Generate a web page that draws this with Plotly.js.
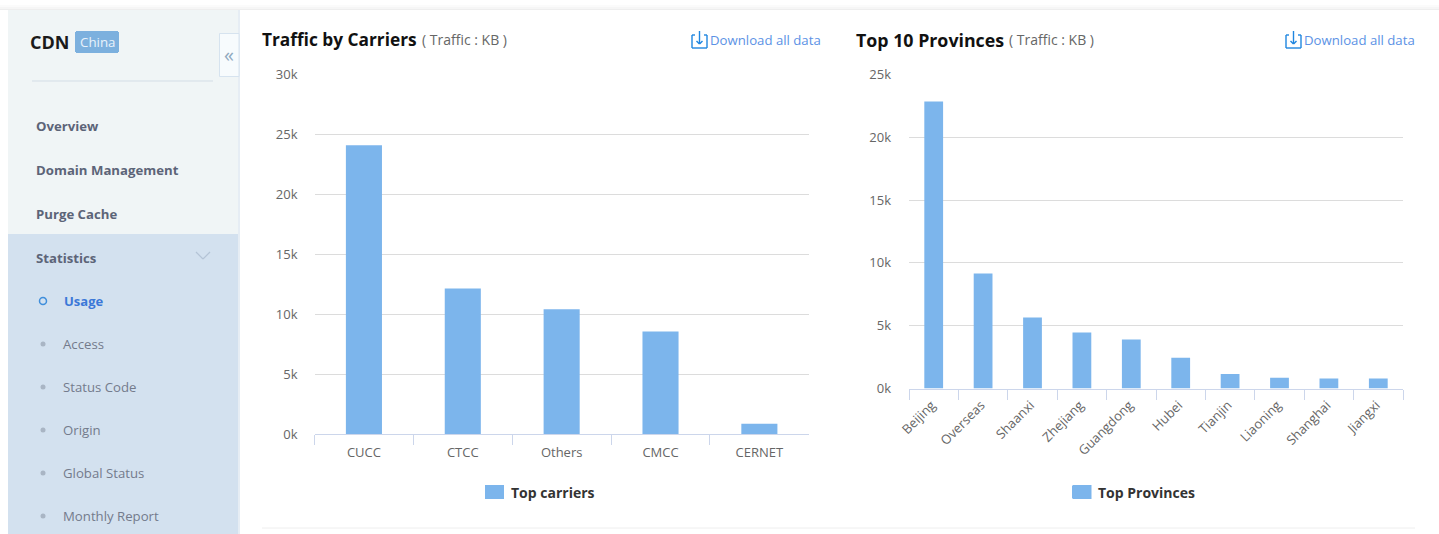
<!DOCTYPE html>
<html>
<head>
<meta charset="utf-8">
<script src="https://cdn.plot.ly/plotly-3.0.1.min.js"></script>
<style>html,body{margin:0;padding:0;background:#fff;overflow:hidden}#c{width:1439px;height:534px}</style>
</head>
<body>
<div id="c"></div>
<script>
const carriers = ['CUCC','CTCC','Others','CMCC','CERNET'];
const carrierTraffic = [24100,12150,10400,8550,850];
const provinces = ['Beijing','Overseas','Shaanxi','Zhejiang','Guangdong','Hubei','Tianjin','Liaoning','Shanghai','Jiangxi'];
const provinceTraffic = [22850,9150,5650,4450,3900,2450,1150,850,800,800];
const carrierTicks = [0,5000,10000,15000,20000,25000,30000];
const carrierTickText = ['0k','5k','10k','15k','20k','25k','30k'];
const provinceTicks = [0,5000,10000,15000,20000,25000];
const provinceTickText = ['0k','5k','10k','15k','20k','25k'];
const menuMain = ['Overview','Domain Management','Purge Cache','Statistics'];
const menuSub = ['Access','Status Code','Origin','Global Status','Monthly Report'];

const W = 1439, H = 534;
const X = p => p / W, Y = p => 1 - p / H;
const FONT = '"Open Sans","Noto Sans",sans-serif';
const BAR = '#7cb5ec', AXIS = '#ccd6eb', GRID = '#dcdcdc', TICKTXT = '#666666';

const rect = (x0,y0,x1,y1,fill,line) => ({type:'rect',xref:'paper',yref:'paper',layer:'below',
  x0:X(x0),x1:X(x1),y0:Y(y1),y1:Y(y0),fillcolor:fill,line:line?{color:line,width:1}:{width:0}});
const seg = (x0,y0,x1,y1,color,width) => ({type:'line',xref:'paper',yref:'paper',layer:'above',
  x0:X(x0),x1:X(x1),y0:Y(y0),y1:Y(y1),line:{color:color,width:width||1}});
const txt = (x,y,text,size,color,bold,anchor) => ({xref:'paper',yref:'paper',x:X(x),y:Y(y),text:bold?'<b>'+text+'</b>':text,
  showarrow:false,xanchor:anchor||'left',yanchor:'middle',align:'left',borderpad:0,
  font:{family:FONT,size:size,color:color}});
const dot = (cx,cy,r,fill,line) => ({type:'circle',xref:'paper',yref:'paper',layer:'above',
  x0:X(cx-r),x1:X(cx+r),y0:Y(cy+r),y1:Y(cy-r),fillcolor:fill,line:line?{color:line,width:1.5}:{width:0}});

const shapes = [
  rect(0,5,1439,7,'#fbfbfb'),
  rect(0,7,1439,9,'#f6f6f6'),
  rect(0,9,1439,10,'#eeeeee'),
  rect(8,10,238,234,'#f0f5f6'),
  rect(8,234,238,534,'#d3e1ef'),
  rect(238,10,240,534,'#e6edf4'),
  rect(219.5,33.5,239,76.5,'#f7fbfd','#d6e3ef'),
  rect(76,31,118,53,'#7cb0de'),
  rect(75,32,119,52,'#7cb0de'),
  seg(32,81,213,81,'#d3dde6'),
  seg(262,528,1415,528,'#eeeeee'),
  seg(196,252,203,259,'#b4c4d6',1.2), seg(203,259,210,252,'#b4c4d6',1.2),
  dot(43,301,3.5,'rgba(0,0,0,0)','#3f8edb'),
  rect(485,485,504,499,BAR),
  rect(1072.5,485,1091.5,499,BAR)
];
[344,387,430,473,516].forEach(y => shapes.push(dot(43,y,2.5,'#a9b5c4')));

// download icons
[691,1285].forEach(x => {
  const c = '#1f86e0', w = 1.4;
  shapes.push(seg(x+1,35,x+1,48,c,w), seg(x+1,48,x+16,48,c,w), seg(x+16,48,x+16,35,c,w),
    seg(x+1,35,x+4,35,c,w), seg(x+13,35,x+16,35,c,w),
    seg(x+8.5,31,x+8.5,44,c,w), seg(x+5.5,41,x+8.5,44,c,w), seg(x+8.5,44,x+11.5,41,c,w));
});

const annotations = [
  txt(29,42,'CDN',18,'#1a1a1a',true),
  txt(79,42,'China',13.3,'#e8f2fb'),
  txt(229,54,'«',20,'#8fa9bf',false,'center'),
  txt(261,40,'Traffic by Carriers',17.3,'#111111',true),
  txt(420.5,40,'( Traffic : KB )',14,'#666666'),
  txt(709,40,'Download all data',13.2,'#5b92e5'),
  txt(854.5,39.5,'Top 10 Provinces',17.8,'#111111',true),
  txt(1007.5,40,'( Traffic : KB )',14,'#666666'),
  txt(1303,40,'Download all data',13.2,'#5b92e5'),
  txt(63,301,'Usage',13,'#3b78d8',true)
];
[126,170,214,258].forEach((y,i) => annotations.push(txt(35,y,menuMain[i],13.2,'#5c6478',true)));
[344,387,430,473,516].forEach((y,i) => annotations.push(txt(62,y,menuSub[i],13.2,'#737b8c')));

const yaxisBase = {showline:false,ticks:'',gridcolor:GRID,gridwidth:1,zeroline:false,fixedrange:true,
  tickfont:{family:FONT,size:13,color:TICKTXT}};
const xaxisBase = {type:'category',showline:true,linecolor:AXIS,linewidth:1,ticks:'outside',tickson:'boundaries',
  ticklen:10,tickcolor:AXIS,tickwidth:1,showgrid:false,zeroline:false,fixedrange:true,
  tickfont:{family:FONT,size:13,color:TICKTXT}};

const legendBase = {xanchor:'left',yanchor:'middle',bgcolor:'rgba(0,0,0,0)',itemclick:false,
  font:{family:FONT,size:14,color:'#333333',weight:700}};
const layout = {
  width:W,height:H,margin:{l:0,r:0,t:0,b:0},paper_bgcolor:'#fff',plot_bgcolor:'rgba(0,0,0,0)',
  showlegend:true,bargap:0.635,font:{family:FONT},
  xaxis:Object.assign({},xaxisBase,{domain:[X(314.5),X(808.8)],anchor:'y',ticklabelstandoff:6}),
  yaxis:Object.assign({},yaxisBase,{domain:[Y(434),Y(74.5)],range:[0,30000],tickvals:carrierTicks,ticktext:carrierTickText,anchor:'x',ticklabelstandoff:16}),
  xaxis2:Object.assign({},xaxisBase,{domain:[X(909),X(1403)],anchor:'y2',tickangle:-45,ticklabelstandoff:3,ticklabelshift:-2}),
  yaxis2:Object.assign({},yaxisBase,{domain:[Y(388.5),Y(74.5)],range:[0,25000],tickvals:provinceTicks,ticktext:provinceTickText,anchor:'x2',ticklabelstandoff:17}),
  legend:Object.assign({},legendBase,{x:X(471),y:Y(492.5)}),
  legend2:Object.assign({},legendBase,{x:X(1058),y:Y(492.5)}),
  shapes:shapes,annotations:annotations
};

const traces = [
  {type:'bar',name:'Top carriers',x:carriers,y:carrierTraffic,xaxis:'x',yaxis:'y',legend:'legend',
   marker:{color:BAR},hoverinfo:'x+y'},
  {type:'bar',name:'Top Provinces',x:provinces,y:provinceTraffic,xaxis:'x2',yaxis:'y2',legend:'legend2',
   marker:{color:BAR},hoverinfo:'x+y',width:0.38}
];
Plotly.newPlot('c',traces,layout,{displayModeBar:false});
</script>
</body>
</html>
